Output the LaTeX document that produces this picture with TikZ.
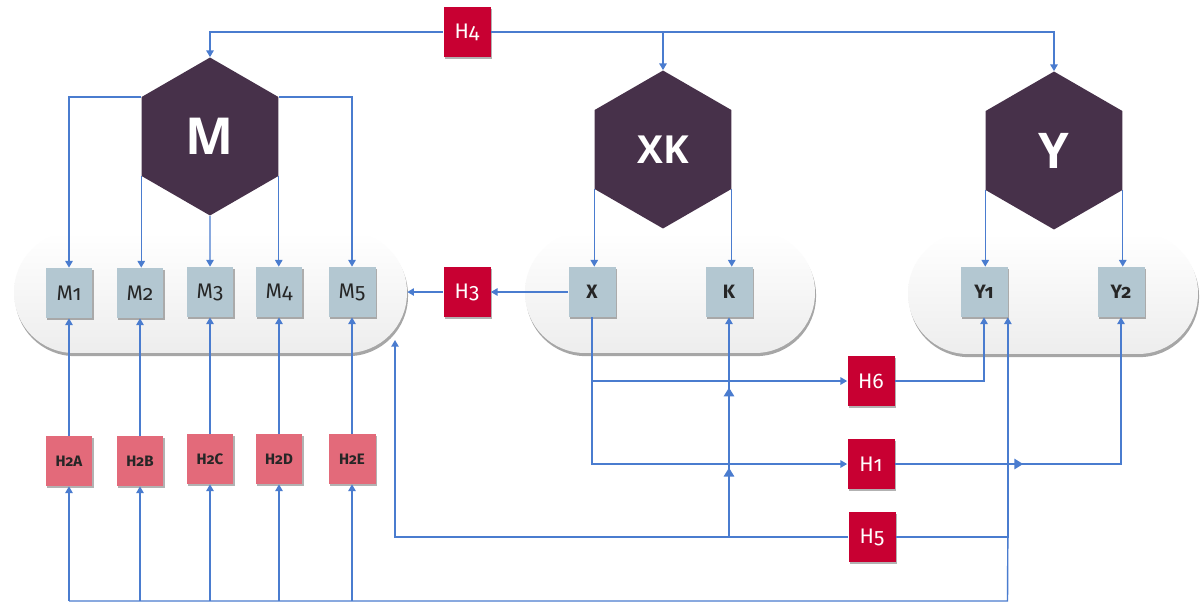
\documentclass[tikz,border=0pt]{standalone}
\usepackage{fontspec}
\setmainfont{Fira Sans}[Numbers=OldStyle]
\newfontfamily\hexfont{Open Sans}
\usetikzlibrary{arrows.meta,shapes.geometric,shadows,decorations.markings,calc}

\definecolor{hexcol}{HTML}{47314A}
\definecolor{redbox}{HTML}{C80032}
\definecolor{pinkbox}{HTML}{E36A7A}
\definecolor{greybox}{HTML}{B3C7D1}
\definecolor{linecol}{HTML}{4A7CCF}
\definecolor{txtdark}{HTML}{262626}
\definecolor{pillbot}{HTML}{EDEDED}

\tikzset{
  hexa/.style={regular polygon, regular polygon sides=6, shape border rotate=30,
    minimum size=3.16cm, inner sep=0pt, fill=hexcol, draw=none, text=white},
  pill/.style={rectangle, rounded corners=1.2cm, minimum height=2.42cm,
    top color=white, bottom color=pillbot, draw=none,
    drop shadow={shadow xshift=0.6pt, shadow yshift=-1.8pt, opacity=0.35, fill=black}},
  box/.style={rectangle, minimum width=0.94cm, minimum height=1cm, inner sep=0pt,
    draw=none, drop shadow={shadow xshift=0.8pt, shadow yshift=-1.1pt, opacity=0.3, fill=black}},
  gbox/.style={box, fill=greybox, text=txtdark, font=\fontsize{12}{14}\selectfont},
  gboxb/.style={gbox, font=\bfseries\fontsize{11}{13}\selectfont},
  rbox/.style={box, fill=redbox, text=white, font=\fontsize{12}{14}\selectfont},
  pbox/.style={box, fill=pinkbox, text=txtdark, font=\bfseries\fontsize{8.6}{10}\selectfont},
  link/.style={draw=linecol, line width=0.8pt},
  arr/.style={link, -{Triangle[width=4.2pt,length=3.8pt]}},
  tipsK/.style={postaction={decorate, decoration={markings,
    mark=at position 0.315 with {\arrow[linecol]{Triangle[width=6pt,length=5pt]}},
    mark=at position 0.68 with {\arrow[linecol]{Triangle[width=6pt,length=5pt]}}}}},
  tipH1/.style={postaction={decorate, decoration={markings,
    mark=at position 0.344 with {\arrow[linecol]{Triangle[width=6pt,length=5pt]}}}}},
}

\begin{document}
\begin{tikzpicture}[x=0.02cm,y=-0.02cm]
\useasboundingbox (0,0) rectangle (1200,603);
\fill[white] (0,0) rectangle (1200,603);

% grouping capsules
\node[pill, minimum width=7.86cm] (Mgrp)  at (210.5,292.5) {};
\node[pill, minimum width=5.8cm]  (XKgrp) at (670,292.5) {};
\node[pill, minimum width=5.8cm]  (Ygrp)  at (1053,293.5) {};

% hexagons
\node[hexa, font=\hexfont\bfseries\fontsize{29}{32}\selectfont] (M)  at (210,136.5) {M};
\node[hexa, font=\hexfont\bfseries\fontsize{22}{26}\selectfont] (XK) at (663,149.5) {XK};
\node[hexa, font=\hexfont\bfseries\fontsize{28}{32}\selectfont] (Y)  at (1054,150.5) {Y};

% M units
\node[gbox] (M1) at (69,293)  {M1};
\node[gbox] (M2) at (140,293) {M2};
\node[gbox] (M3) at (210,292) {M3};
\node[gbox] (M4) at (279,292) {M4};
\node[gbox] (M5) at (352,292) {M5};

% H2 boxes
\node[pbox] (H2A) at (69,461)  {H2A};
\node[pbox] (H2B) at (140,461) {H2B};
\node[pbox] (H2C) at (210,459) {H2C};
\node[pbox] (H2D) at (279,459) {H2D};
\node[pbox] (H2E) at (352,459) {H2E};

% other units
\node[gboxb] (X)  at (592,292) {X};
\node[gboxb] (K)  at (729,292) {K};
\node[gboxb] (Y1) at (984,292) {Y1};
\node[gboxb] (Y2) at (1121,292) {Y2};

% H boxes
\node[rbox] (H4) at (467,32)  {H4};
\node[rbox] (H3) at (467,292) {H3};
\node[rbox] (H6) at (871,381) {H6};
\node[rbox] (H1) at (871,464) {H1};
\node[rbox] (H5) at (872,537) {H5};

\coordinate (Mfeed) at (395,340);
\coordinate (busR)  at (1007.5,601);

% H4 to the three hexagons
\draw[arr] (H4.west) -| (M.north);
\draw[arr] (H4.east) -| (XK.north);
\draw[arr] (H4.east) -| (Y.north);

% hexagons to their units
\draw[arr] (M.150) -| (M1.north);
\draw[arr] (M.210) -- (M.210 |- M2.north);
\draw[arr] (M.south) -- (M3.north);
\draw[arr] (M.330) -- (M.330 |- M4.north);
\draw[arr] (M.30) -| (M5.north);
\draw[arr] (XK.210) -- (XK.210 |- X.north);
\draw[arr] (XK.330) -- (XK.330 |- K.north);
\draw[arr] (Y.210) -- (Y.210 |- Y1.north);
\draw[arr] (Y.330) -- (Y.330 |- Y2.north);

% H2 boxes to M units
\foreach \a/\b in {H2A/M1,H2B/M2,H2C/M3,H2D/M4,H2E/M5}
  \draw[arr] (\a.north) -- (\b.south);

% X via H3 to the M group
\draw[arr] (X.west) -- (H3.east);
\draw[arr] (H3.west) -- (H3.west -| Mgrp.east);

% X to H6 and H1
\draw[arr] (X.south) |- (H1.west);
\draw[arr] (X.south |- H6.west) -- (H6.west);

% H6 and H1 to Y units
\draw[arr] (H6.east) -| (Y1.south);
\draw[arr, tipH1] (H1.east) -| (Y2.south);

% H5 outputs
\draw[arr, tipsK] (K.south |- H5.west) -- (K.south);
\draw[arr] (H5.west) -| (Mfeed);
\draw[arr] (H5.east) -| (Y1.south east);
\draw[link] (Y1.south east |- H5.east) -- (busR) -- (busR -| H2A.south);
\foreach \n in {H2A,H2B,H2C,H2D,H2E}
  \draw[arr] (busR -| \n.south) -- (\n.south);
\end{tikzpicture}
\end{document}
